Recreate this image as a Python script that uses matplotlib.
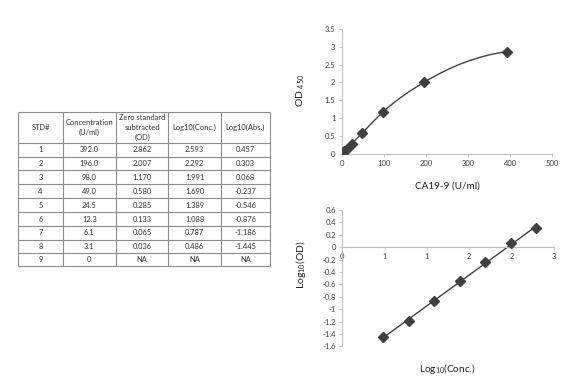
import numpy as np
import matplotlib
matplotlib.use("Agg")
from matplotlib import pyplot as plt, ticker
from matplotlib.path import Path
from matplotlib.patches import PathPatch

plt.rcParams['font.family'] = ['Lato', 'DejaVu Sans']
plt.rcParams['mathtext.default'] = 'regular'

# table data (row 9 has no OD / logs)
std_ids = [1, 2, 3, 4, 5, 6, 7, 8, 9]
conc = [392.0, 196.0, 98.0, 49.0, 24.5, 12.3, 6.1, 3.1, 0]
od = [2.862, 2.007, 1.170, 0.580, 0.285, 0.133, 0.065, 0.036, None]
log_conc = [2.593, 2.292, 1.991, 1.690, 1.389, 1.088, 0.787, 0.486, None]
log_abs = [0.457, 0.303, 0.068, -0.237, -0.546, -0.876, -1.186, -1.445, None]
headers = ['STD#', 'Concentration\n(U/ml)', 'Zero standard\nsubtracted\n(OD)',
           'Log10(Conc.)', 'Log10(Abs.)']

dark = '#404040'
axis_grey = '#bfbfbf'
text_col = '#404040'


def fmt(v, nd):
    if v is None:
        return 'NA'
    if v == 0:
        return '0'
    return f'{v:.{nd}f}'


def excel_round(x, pos):
    # Excel number format "0" rounds half up
    return str(int(np.floor(x + 0.5)))


def deriv3(xa, ya, xb, yb, xc, yc, at):
    # derivative of the parabola through three points, evaluated at "at"
    d1 = (yb - ya) / (xb - xa)
    d2 = (yc - yb) / (xc - xb)
    dd = (d2 - d1) / (xc - xa)
    return d1 + dd * ((at - xa) + (at - xb))


def smooth_path(xs, ys):
    # smoothed line through the points as cubic bezier segments
    order = np.argsort(xs)
    x = np.asarray(xs, float)[order]
    y = np.asarray(ys, float)[order]
    n = len(x)
    m = np.zeros(n)
    for i in range(n):
        j = min(max(i - 1, 0), n - 3)
        m[i] = deriv3(x[j], y[j], x[j + 1], y[j + 1], x[j + 2], y[j + 2], x[i])
    verts = [(x[0], y[0])]
    codes = [Path.MOVETO]
    for i in range(n - 1):
        h = x[i + 1] - x[i]
        verts += [(x[i] + h / 3, y[i] + m[i] * h / 3),
                  (x[i + 1] - h / 3, y[i + 1] - m[i + 1] * h / 3),
                  (x[i + 1], y[i + 1])]
        codes += [Path.CURVE4] * 3
    return Path(verts, codes)


fig = plt.figure(figsize=(5.82, 3.78), dpi=100)
fig.set_facecolor('white')

# ---- table, drawn in pixel coordinates
tab = fig.add_axes([0, 0, 1, 1])
tab.set_xlim(0, 582)
tab.set_ylim(378, 0)
tab.axis('off')

col_x = [18.3, 62.7, 116, 168.3, 221, 270]
row_y = [112, 142.7, 156.7, 170.3, 184.3, 198.3, 212.3, 226, 239.7, 252.7, 266]
tab.hlines(row_y, col_x[0], col_x[-1], color='#8c8c8c', lw=0.8)
tab.vlines(col_x, row_y[0], row_y[-1], color='#8c8c8c', lw=0.8)

cells = [headers]
for i in range(len(std_ids)):
    cells.append([str(std_ids[i]), fmt(conc[i], 1), fmt(od[i], 3),
                  fmt(log_conc[i], 3), fmt(log_abs[i], 3)])
for r, row in enumerate(cells):
    yc = (row_y[r] + row_y[r + 1]) / 2
    for c, txt in enumerate(row):
        xc = (col_x[c] + col_x[c + 1]) / 2
        tab.text(xc, yc, txt, ha='center', va='center', fontsize=5.4,
                 color='#303030', linespacing=1.45)

# ---- upper chart: OD450 vs concentration
ax1 = fig.add_axes([0.587, 0.5934, 0.362, 0.330])
ax1.plot(conc[:8], od[:8], linestyle='none', marker='D', ms=4.6,
         color=dark, zorder=3)
ax1.add_patch(PathPatch(smooth_path(conc[:8], od[:8]), fc='none',
                        ec=dark, lw=1.0, zorder=2))
ax1.set_xlim(0, 500)
ax1.set_ylim(0, 3.5)
ax1.xaxis.set_major_locator(ticker.MultipleLocator(100))
ax1.yaxis.set_major_locator(ticker.MultipleLocator(0.5))
ax1.yaxis.set_major_formatter(ticker.FormatStrFormatter('%g'))
ax1.set_xlabel('CA19-9 (U/ml)', fontsize=7.2, color='#202020')
ax1.set_ylabel('OD $_{450}$', fontsize=7.5, color='#202020')
ax1.xaxis.set_label_coords(0.5, -0.227)
ax1.yaxis.set_label_coords(-0.165, 0.51)

# ---- lower chart: log-log linear fit
x2 = np.array(log_conc[1:8])
y2 = np.array(log_abs[1:8])
slope, icpt = np.polyfit(x2, y2, 1)
xfit = np.array([x2.min(), x2.max()])

ax2 = fig.add_axes([0.588, 0.0839, 0.3637, 0.3605])
ax2.plot(xfit, slope * xfit + icpt, color=dark, lw=1.0, zorder=2)
ax2.plot(x2, y2, linestyle='none', marker='D', ms=4.6, color=dark, zorder=3)
ax2.set_xlim(0, 2.5)
ax2.set_ylim(-1.6, 0.6)
ax2.spines['bottom'].set_position(('data', 0))
ax2.xaxis.set_major_locator(ticker.MultipleLocator(0.5))
ax2.xaxis.set_major_formatter(ticker.FuncFormatter(excel_round))
ax2.yaxis.set_major_locator(ticker.MultipleLocator(0.2))
ax2.yaxis.set_major_formatter(ticker.FuncFormatter(lambda v, p: f'{round(v, 1):g}'))
ax2.set_xlabel('Log$_{10}$(Conc.)', fontsize=7.2, color='#202020')
ax2.set_ylabel('Log$_{10}$(OD)', fontsize=7.5, color='#202020')
ax2.xaxis.set_label_coords(0.495, -0.115)
ax2.yaxis.set_label_coords(-0.16, 0.596)

for ax in (ax1, ax2):
    for s in ('top', 'right'):
        ax.spines[s].set_visible(False)
    for s in ('left', 'bottom'):
        ax.spines[s].set_color(axis_grey)
        ax.spines[s].set_linewidth(0.8)
    ax.tick_params(length=2.5, width=0.6, color=axis_grey, labelsize=5.5,
                   labelcolor=text_col, pad=2)
    ax.set_facecolor('none')

plt.savefig('out.png', dpi=100)
